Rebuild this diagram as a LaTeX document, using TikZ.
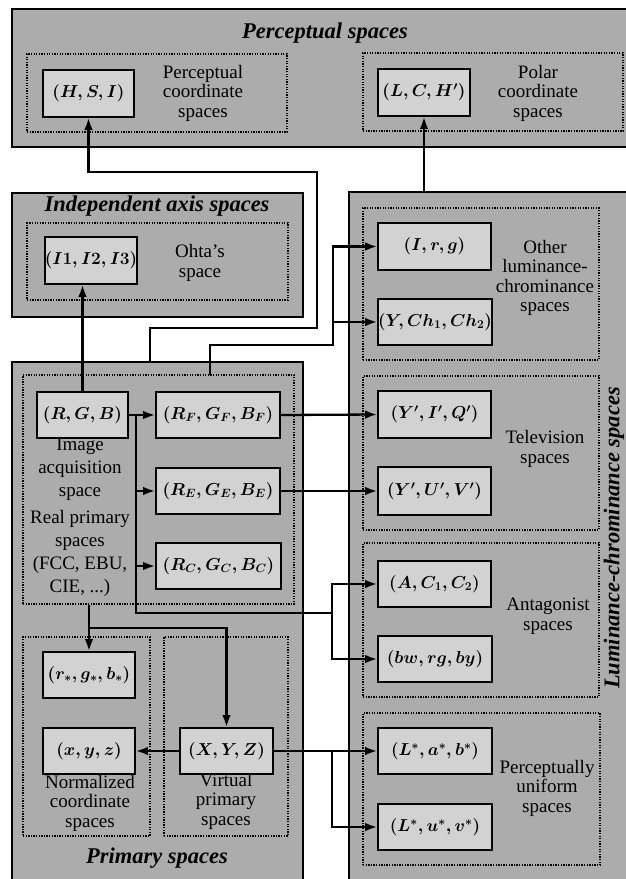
\documentclass[tikz,border=0pt]{standalone}
\usepackage{fontspec}
\setmainfont{Liberation Serif}
\usetikzlibrary{arrows.meta}
\definecolor{outerg}{RGB}{172,172,172}
\definecolor{innerg}{RGB}{210,210,210}
\newcommand\placebox[7]{\node[#2, minimum width={#5-#3}, minimum height={#6-#4}] (#1) at ({(#3+#5)/2},{(#4+#6)/2}) {#7};}
\begin{document}
\begin{tikzpicture}[x=1pt,y=-1pt,
  outerbox/.style={draw=black, line width=1.7pt, fill=outerg, inner sep=0pt},
  dbox/.style={draw=black, line width=1.1pt, dash pattern=on 1.3pt off 1.3pt, inner sep=0pt},
  mbox/.style={draw=black, line width=1.6pt, fill=innerg, inner sep=0pt, font=\fontsize{18}{18}\selectfont\boldmath},
  lbl/.style={align=center, font=\fontsize{19}{19.5}\selectfont, inner sep=0pt},
  lblw/.style={align=center, font=\fontsize{19}{23}\selectfont, inner sep=0pt},
  ttl/.style={font=\fontsize{22.5}{23}\selectfont\bfseries\itshape, inner sep=0pt},
  conn/.style={line width=2.3pt},
  arr/.style={conn, -{Latex[length=12pt,width=8.5pt]}},
]
\useasboundingbox (0,0) rectangle (626,879);
\clip (0,0) rectangle (626,879);
\fill[white] (0,0) rectangle (626,879);

% outer boxes
\placebox{Perc}{outerbox}{12}{9}{645}{147}{}
\placebox{Indep}{outerbox}{12}{193}{303}{317}{}
\placebox{Lum}{outerbox}{349}{192}{645}{900}{}
\placebox{Prim}{outerbox}{12}{362}{303}{900}{}

% titles
\node[ttl] (tPerc) at (325,33) {Perceptual spaces};
\node[ttl] (tIndep) at (157,206) {Independent axis spaces};
\node[ttl, rotate=90] (tLum) at (614,538) {Luminance-chrominance spaces};
\node[ttl] (tPrim) at (157,858) {Primary spaces};

% perceptual spaces
\placebox{PCd}{dbox}{27}{54}{287}{132}{}
\placebox{HSI}{mbox}{43}{70}{134}{117}{$(H,S,I)$}
\node[lbl] (tPC) at (203,93) {Perceptual\\coordinate\\spaces};
\placebox{POd}{dbox}{363}{53}{623}{131}{}
\placebox{LCH}{mbox}{378}{69}{470}{116}{$(L,C,H')$}
\node[lbl] (tPO) at (538,93) {Polar\\coordinate\\spaces};

% independent axis
\placebox{OHd}{dbox}{27}{223}{288}{300}{}
\placebox{I123}{mbox}{45}{237}{137}{284}{$(I1,I2,I3)$}
\node[lbl] (tOH) at (200,263) {Ohta’s\\space};

% luminance-chrominance
\placebox{OTd}{dbox}{363}{208}{599}{360}{}
\placebox{Irg}{mbox}{378}{223}{491}{270}{$(I,r,g)$}
\placebox{YCh}{mbox}{378}{299}{492}{345}{$(Y,Ch_1,Ch_2)$}
\node[lbl] (tOT) at (545,278) {Other\\luminance-\\chrominance\\spaces};

\placebox{TVd}{dbox}{363}{376}{599}{530}{}
\placebox{YIQ}{mbox}{378}{391}{491}{438}{$(Y',I',Q')$}
\placebox{YUV}{mbox}{378}{467}{491}{515}{$(Y',U',V')$}
\node[lbl] (tTV) at (545,449) {Television\\spaces};

\placebox{ANd}{dbox}{363}{543}{599}{697}{}
\placebox{AC}{mbox}{378}{561}{491}{607}{$(A,C_1,C_2)$}
\placebox{BW}{mbox}{378}{636}{492}{682}{$(bw,rg,by)$}
\node[lbl] (tAN) at (548,616) {Antagonist\\spaces};

\placebox{PUd}{dbox}{363}{713}{600}{865}{}
\placebox{Lab}{mbox}{378}{728}{492}{774}{$(L^*,a^*,b^*)$}
\placebox{Luv}{mbox}{378}{804}{492}{850}{$(L^*,u^*,v^*)$}
\node[lbl] (tPU) at (547,788) {Perceptually\\uniform\\spaces};

% primary spaces
\placebox{RPd}{dbox}{23}{375}{294}{604}{}
\placebox{RGB}{mbox, line width=2.8pt}{37}{392}{128}{438}{$(R,G,B)$}
\placebox{RF}{mbox}{156}{392}{280}{438}{$(R_F,G_F,B_F)$}
\placebox{RE}{mbox}{156}{468}{280}{514}{$(R_E,G_E,B_E)$}
\placebox{RC}{mbox}{156}{543}{281}{589}{$(R_C,G_C,B_C)$}
\node[lblw] (tIA) at (80,469) {Image\\acquisition\\space};
\node[lblw] (tRP) at (80,553) {Real primary\\spaces\\(FCC, EBU,\\CIE, ...)};

\placebox{NCd}{dbox}{23}{637}{150}{836}{}
\placebox{RS}{mbox}{43}{652}{135}{698}{$(r_*,g_*,b_*)$}
\placebox{xyz}{mbox}{43}{728}{135}{774}{$(x,y,z)$}
\node[lbl] (tNC) at (90,803) {Normalized\\coordinate\\spaces};

\placebox{VPd}{dbox}{164}{637}{288}{836}{}
\node[lbl] (tVP) at (226,801) {Virtual\\primary\\spaces};
\placebox{XYZ}{mbox}{180}{728}{273}{774}{$(X,Y,Z)$}

% connectors
\coordinate (pT) at (150,362);
\coordinate (rT) at (210,375);
\coordinate (bus) at (136,415);
\coordinate (abus) at (332,613);
\coordinate (br) at (89,628);
\coordinate (lb) at (332,751);

\draw[arr] (Lum.north -| LCH.south) -- (LCH.south);
\draw[arr] (pT) |- (317,328) |- (88.5,172) -- (HSI.south);
\draw[arr] (rT) |- (333,345) |- (Irg.west);
\draw[arr] (333,345) |- (YCh.west);
\draw[arr] (RGB.north) -- (RGB.north |- I123.south);

\draw[arr] (RGB.east) -- (RF.west);
\draw[conn] (bus) -- (bus |- abus) -- (abus);
\draw[arr] (bus |- RE.west) -- (RE.west);
\draw[arr] (bus |- RC.west) -- (RC.west);
\draw[arr] (abus) |- (AC.west);
\draw[arr] (abus) |- (BW.west);
\draw[arr] (RF.east) -- (YIQ.west);
\draw[arr] (RE.east) -- (YUV.west);

\draw[arr] (RPd.south -| RS.north) -- (RS.north);
\draw[arr] (br) -| (XYZ.north);
\draw[arr] (XYZ.west) -- (xyz.east);
\draw[arr] (XYZ.east) -- (Lab.west);
\draw[arr] (lb) |- (Luv.west);
\end{tikzpicture}
\end{document}
